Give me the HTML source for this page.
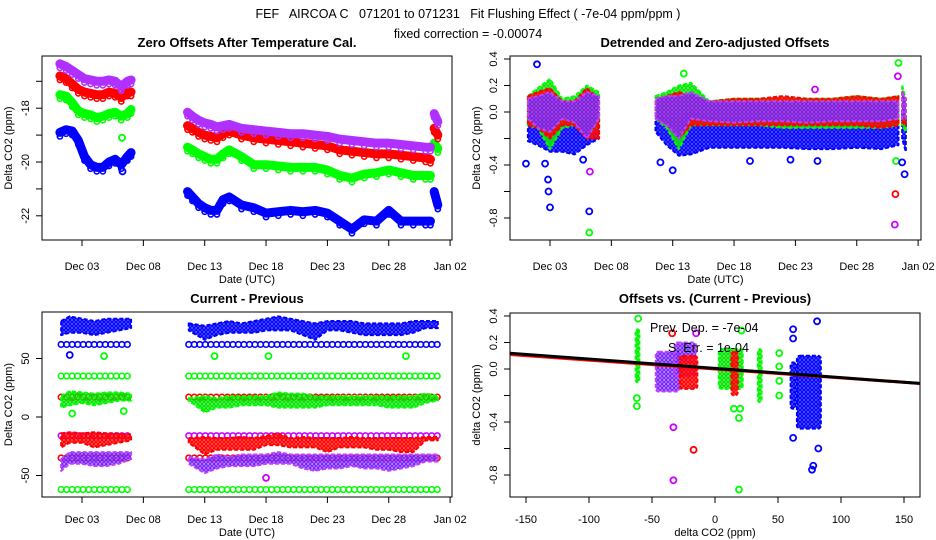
<!DOCTYPE html>
<html><head><meta charset="utf-8"><style>
html,body{margin:0;padding:0;background:#fff}
svg{display:block;font-family:"Liberation Sans",sans-serif}
</style></head><body>
<svg id="c" width="936" height="540" viewBox="0 0 936 540">
<defs>
<pattern id="pp" width="4" height="4" patternUnits="userSpaceOnUse"><rect width="4" height="4" fill="#d050ff" opacity="0.6"/><circle cx="2" cy="2" r="1.4" fill="none" stroke="#6020ff" stroke-width="1.1"/></pattern>
<pattern id="pr" width="4" height="4" patternUnits="userSpaceOnUse"><rect width="4" height="4" fill="#ff0000" opacity="0.55"/><circle cx="2" cy="2" r="1.4" fill="none" stroke="#ff0000" stroke-width="1.2"/></pattern>
<pattern id="pg" width="4" height="4" patternUnits="userSpaceOnUse"><rect width="4" height="4" fill="#00ff00" opacity="0.5"/><circle cx="2" cy="2" r="1.4" fill="none" stroke="#00e000" stroke-width="1.2"/></pattern>
<pattern id="pb" width="4" height="4" patternUnits="userSpaceOnUse"><rect width="4" height="4" fill="#0000ff" opacity="0.55"/><circle cx="2" cy="2" r="1.4" fill="none" stroke="#0000ff" stroke-width="1.2"/></pattern>
</defs>
<text x="468" y="18" font-size="12.5" text-anchor="middle" xml:space="preserve">FEF   AIRCOA C   071201 to 071231   Fit Flushing Effect ( -7e-04 ppm/ppm )</text>
<text x="468" y="38" font-size="12.5" text-anchor="middle">fixed correction = -0.00074</text>
<text x="247" y="47" font-size="13" font-weight="bold" text-anchor="middle">Zero Offsets After Temperature Cal.</text>
<text x="715" y="47" font-size="13" font-weight="bold" text-anchor="middle">Detrended and Zero-adjusted Offsets</text>
<text x="247" y="303" font-size="13" font-weight="bold" text-anchor="middle">Current - Previous</text>
<text x="715" y="303" font-size="13" font-weight="bold" text-anchor="middle">Offsets vs. (Current - Previous)</text>
<g id="g"></g>
</svg>
<script>
// ---------- data ----------
const T = [0.2,0.7,1.2,1.7,2.2,2.7,3.2,3.7,4.2,4.7,5.2,5.7,6.0,null,
  10.6,11,11.5,12,12.5,13,13.5,14,15,16,17,18,19,20,21,22,23,24,25,26,27,28,29,30,30.4,null,30.7,31.0];
const zPurple = [-16.35,-16.45,-16.6,-16.75,-16.9,-16.95,-17.0,-17.0,-16.95,-17.0,-17.2,-17.0,-16.95,null,
  -18.15,-18.3,-18.45,-18.55,-18.6,-18.7,-18.65,-18.6,-18.75,-18.8,-18.85,-18.9,-18.95,-18.95,-19.0,-19.05,-19.15,-19.2,-19.25,-19.3,-19.3,-19.35,-19.4,-19.45,-19.45,null,-18.2,-18.5];
const zRed = [-16.8,-16.9,-17.1,-17.3,-17.4,-17.45,-17.5,-17.5,-17.4,-17.45,-17.6,-17.4,-17.4,null,
  -18.65,-18.75,-18.9,-19.0,-19.05,-19.1,-18.95,-18.85,-19.0,-19.1,-19.15,-19.2,-19.25,-19.3,-19.35,-19.4,-19.55,-19.6,-19.65,-19.7,-19.7,-19.75,-19.8,-19.85,-19.9,null,-18.75,-19.0];
const zGreen = [-17.5,-17.55,-17.8,-18.1,-18.2,-18.25,-18.35,-18.3,-18.2,-18.15,-18.3,-18.2,-18.05,null,
  -19.45,-19.55,-19.7,-19.8,-19.9,-19.9,-19.7,-19.55,-19.8,-20.1,-20.1,-20.15,-20.2,-20.2,-20.2,-20.3,-20.5,-20.6,-20.45,-20.4,-20.3,-20.4,-20.5,-20.5,-20.5,null,-19.3,-19.5];
const zBlue = [-18.9,-18.8,-18.85,-19.2,-19.8,-20.1,-20.2,-20.2,-20.0,-19.9,-20.1,-19.8,-19.65,null,
  -21.1,-21.3,-21.55,-21.7,-21.8,-21.8,-21.4,-21.3,-21.6,-21.7,-21.9,-21.85,-21.8,-21.85,-21.8,-21.9,-22.2,-22.5,-22.15,-22.2,-21.8,-22.2,-22.2,-22.2,-22.2,null,-21.1,-21.6];
const zOutDay = [5.26,5.3];
const zOutVal = [-19.1,-20.35];
const zOutCol = ['#00ff00','#0000ff'];

const TB = [0.2,1,2,3,4,5,6,null,10.6,11.5,12.5,13.5,15,17,19,21,23,25,27,29,30.4,null,30.7,31];
const dBlueHi = [-0.05,-0.05,-0.05,-0.08,-0.08,-0.05,-0.05,null,-0.05,-0.05,-0.05,0.0,-0.05,-0.05,-0.05,-0.05,-0.05,-0.05,-0.05,-0.05,-0.05,null,0.0,-0.05];
const dBlueLo = [-0.22,-0.25,-0.3,-0.3,-0.32,-0.25,-0.2,null,-0.15,-0.25,-0.33,-0.32,-0.27,-0.27,-0.27,-0.27,-0.28,-0.28,-0.27,-0.28,-0.25,null,-0.2,-0.3];
const dGreenHi = [0.12,0.18,0.25,0.1,0.12,0.2,0.15,null,0.12,0.15,0.2,0.22,0.08,0.1,0.1,0.1,0.1,0.1,0.12,0.1,0.12,null,0.2,0.1];
const dGreenLo = [-0.1,-0.12,-0.28,-0.12,-0.1,-0.15,-0.12,null,-0.05,-0.12,-0.28,-0.1,-0.1,-0.1,-0.1,-0.12,-0.12,-0.12,-0.12,-0.12,-0.1,null,-0.1,-0.15];
const dRedHi = [0.12,0.15,0.18,0.08,0.08,0.18,0.1,null,0.1,0.12,0.15,0.12,0.08,0.1,0.1,0.12,0.1,0.1,0.12,0.1,0.12,null,0.15,0.1];
const dRedLo = [-0.1,-0.12,-0.2,-0.1,-0.1,-0.2,-0.2,null,-0.05,-0.1,-0.2,-0.1,-0.1,-0.1,-0.1,-0.1,-0.1,-0.1,-0.1,-0.12,-0.1,null,-0.08,-0.1];
const dPurpleHi = [0.1,0.12,0.15,0.08,0.08,0.15,0.12,null,0.1,0.12,0.12,0.15,0.08,0.08,0.08,0.08,0.08,0.08,0.08,0.08,0.08,null,0.15,0.1];
const dPurpleLo = [-0.05,-0.12,-0.15,-0.05,-0.08,-0.2,-0.05,null,-0.05,-0.1,-0.2,-0.05,-0.07,-0.08,-0.07,-0.07,-0.08,-0.07,-0.07,-0.07,-0.05,null,-0.05,-0.05];
const dOutDay = [0.94,0.04,1.6,1.84,1.88,2.0,5.2,5.2,5.25,4.7,30.4,30.35,30.2,30.15,30.1,30.9,30.7,12.0,11.0,21.6,18.3,23.8,12.9,23.6];
const dOutVal = [0.36,-0.39,-0.39,-0.51,-0.6,-0.72,-0.91,-0.75,-0.45,-0.36,0.37,0.27,-0.37,-0.62,-0.85,-0.47,-0.38,-0.44,-0.38,-0.36,-0.37,-0.37,0.29,0.17];
const dOutCol = ['#0000ff','#0000ff','#0000ff','#0000ff','#0000ff','#0000ff','#00ff00','#0000ff','#cc00ff','#0000ff','#00ff00','#cc00ff','#00ff00','#ff0000','#cc00ff','#0000ff','#0000ff','#0000ff','#0000ff','#0000ff','#0000ff','#0000ff','#00ff00','#cc00ff'];

const TC = [0.3,1,2,3,4,5,6.0,null,10.7,12,13,14,15,16,17,18,19,20,21,22,23,24,25,26,27,28,29,30,31.0];
const cBlueHi = [82,86,84,82,84,84,84,null,80,78,80,82,80,82,84,86,84,82,80,82,82,82,80,80,80,80,82,82,82];
const cBlueLo = [70,72,72,70,72,74,76,null,74,66,70,72,72,72,74,74,74,70,66,74,74,72,70,70,70,70,72,76,76];
const cGreenHi = [18,22,21,20,21,21,20,null,16,18,16,18,18,18,18,21,20,20,18,18,18,18,18,18,18,18,18,20,18];
const cGreenLo = [8,10,12,10,12,14,14,null,14,4,8,8,10,10,10,8,8,8,8,10,10,10,10,10,8,8,8,12,14];
const cRedHi = [-14,-13,-14,-13,-14,-14,-15,null,-18,-17,-18,-18,-17,-18,-16,-14,-18,-17,-18,-18,-18,-17,-18,-18,-18,-18,-18,-17,-17];
const cRedLo = [-26,-22,-22,-26,-24,-22,-20,null,-22,-32,-28,-28,-28,-28,-24,-24,-26,-26,-26,-30,-26,-26,-26,-28,-28,-30,-30,-20,-20];
const cPurpleHi = [-36,-30,-30,-30,-30,-30,-30,null,-34,-36,-32,-34,-32,-32,-32,-30,-32,-32,-32,-32,-32,-32,-32,-32,-32,-32,-32,-32,-32];
const cPurpleLo = [-46,-40,-40,-42,-42,-40,-36,null,-40,-48,-44,-42,-42,-42,-40,-40,-40,-44,-46,-44,-44,-42,-44,-44,-46,-44,-42,-38,-38];
const cRowVal = [62,35,17,-16,-35,-62];
const cRowCol = ['#0000ff','#00ff00','#ff0000','#cc00ff','#ff0000','#00ff00'];
const cOutDay = [3.8,12.8,17.2,28.4,17.0,1.0,1.2,5.4];
const cOutVal = [52,52,52,52,-52,53,3,5];
const cOutCol = ['#00ff00','#00ff00','#00ff00','#00ff00','#cc00ff','#0000ff','#00ff00','#00ff00'];

// bottom-right clusters: [x0, x1, ylo, yhi]
const sGreen = [[-63,-60,-0.1,0.3],[3,22,-0.15,0.15],[34,37,-0.25,0.15]];
const sPurple = [[-47,-28,-0.17,0.13],[-32,-15,-0.05,0.2]];
const sRed = [[-28,-14,-0.15,0.1],[13,18,-0.2,0.13]];
const sBlue = [[60,64,-0.3,0.05],[65,84,-0.45,0.1]];
const sOutX = [-61,-62,-62,-33,-33,-17,19,82,78,77,62,62,62,81,51,51,51,51,15,20,19,21,-34,-15];
const sOutY = [0.38,-0.22,-0.28,-0.44,-0.84,-0.61,-0.91,-0.6,-0.73,-0.76,-0.52,0.3,0.23,0.36,0.12,0.02,-0.09,-0.2,-0.3,-0.3,-0.37,0.29,0.27,0.27];
const sOutCol = ['#00ff00','#00ff00','#00ff00','#cc00ff','#cc00ff','#ff0000','#00ff00','#0000ff','#0000ff','#0000ff','#0000ff','#0000ff','#0000ff','#0000ff','#00ff00','#00ff00','#00ff00','#00ff00','#00ff00','#00ff00','#00ff00','#00ff00','#ff0000','#cc00ff'];
const fitSlope = -7e-4;
const fitIntercept = 0.005;
const fitSlopeRed = -6.7e-4;
const fitInterceptRed = 0.0;

// ---------- drawing ----------
const NS='http://www.w3.org/2000/svg';
const G=document.getElementById('g');
function mk(tag,at,parent){const e=document.createElementNS(NS,tag);for(const k in at)e.setAttribute(k,at[k]);(parent||G).appendChild(e);return e;}

const P1={x0:42,x1:452,y0:56,y1:240,sx:d=>82+(d-2)*12.27,sy:v=>162-(v+20)*26.9};
const P2={x0:510,x1:921,y0:56,y1:240,sx:d=>550+(d-2)*12.27,sy:v=>112-v*132.5};
const P3={x0:42,x1:452,y0:312,y1:497,sx:d=>82+(d-2)*12.27,sy:v=>417-v*1.17};
const P4={x0:510,x1:920,y0:313,y1:497,sx:v=>715+v*1.26,sy:v=>369-v*132.5};

function frame(P,name){
  const r=mk('rect',{x:P.x0,y:P.y0,width:P.x1-P.x0,height:P.y1-P.y0,fill:'none',stroke:'#000','stroke-width':1});
  
  
  const cp=mk('clipPath',{id:'clip-'+name});mk('rect',{x:P.x0,y:P.y0,width:P.x1-P.x0,height:P.y1-P.y0},cp);
  const g=mk('g',{'clip-path':'url(#clip-'+name+')'});
  
  
  return g;
}
function xaxisDates(P,ly,name){
  const names=['Dec 03','Dec 08','Dec 13','Dec 18','Dec 23','Dec 28','Jan 02'];
  const g=mk('g',{});
  
  
  names.forEach((n,i)=>{const x=P.sx(2+5*i);
    mk('line',{x1:x,x2:x,y1:P.y1,y2:P.y1+6,stroke:'#000'},g);
    const t=mk('text',{x:x,y:ly,'font-size':11,'text-anchor':'middle'},g);t.textContent=n;});
  const t=mk('text',{x:(P.x0+P.x1)/2,y:ly+13,'font-size':11,'text-anchor':'middle'},g);t.textContent='Date (UTC)';
}
function yaxis(P,ticks,labels,title,name){
  const g=mk('g',{});
  
  
  ticks.forEach((v,i)=>{const y=P.sy(v);
    mk('line',{x1:P.x0-6,x2:P.x0,y1:y,y2:y,stroke:'#000'},g);
    if(labels[i]!==''){const t=mk('text',{x:P.x0-13,y:y,'font-size':11,'text-anchor':'middle',transform:`rotate(-90 ${P.x0-13} ${y})`},g);t.textContent=labels[i];}});
  const cy=(P.y0+P.y1)/2;
  const t=mk('text',{x:P.x0-30,y:cy,'font-size':11,'text-anchor':'middle',transform:`rotate(-90 ${P.x0-30} ${cy})`},g);t.textContent=title;
}
function segs(times,vals){const out=[];let cur=[];times.forEach((t,i)=>{if(t===null){if(cur.length)out.push(cur);cur=[];}else cur.push([t,vals[i]]);});if(cur.length)out.push(cur);return out;}
function lineSeries(P,g,vals,col,name){
  segs(T,vals).forEach(s=>{
    const pts=s.map(p=>P.sx(p[0])+','+P.sy(p[1])).join(' ');
    const l=mk('polyline',{points:pts,fill:'none',stroke:col,'stroke-width':9,'stroke-linejoin':'round','stroke-linecap':'round'},g);
    
    
    s.forEach(p=>{mk('circle',{cx:P.sx(p[0]),cy:P.sy(p[1])+4,r:2.6,fill:'none',stroke:col,'stroke-width':1.6},g);});
  });
}
function band(P,g,times,lo,hi,fill,col,name){
  const sl=segs(times,lo),sh=segs(times,hi);
  sl.forEach((s,k)=>{const h=sh[k];
    const pts=h.map(p=>P.sx(p[0])+','+P.sy(p[1])).concat(s.slice().reverse().map(p=>P.sx(p[0])+','+P.sy(p[1]))).join(' ');
    const pg=mk('polygon',{points:pts,fill:fill,stroke:col,'stroke-width':2,'stroke-dasharray':'4 2','stroke-linejoin':'round'},g);
    
    
  });
}
function points(P,g,xs,ys,cols,name){
  xs.forEach((x,i)=>{const c=mk('circle',{cx:P.sx(x),cy:P.sy(ys[i]),r:3,fill:'none',stroke:cols[i],'stroke-width':1.8},g);
    
    });
}

// Panel 1
let g1=frame(P1,'zero-offsets');
lineSeries(P1,g1,zBlue,'#0000ff','series-blue');
lineSeries(P1,g1,zGreen,'#00ff00','series-green');
lineSeries(P1,g1,zRed,'#ff0000','series-red');
lineSeries(P1,g1,zPurple,'#b030ff','series-purple');
points(P1,g1,zOutDay,zOutVal,zOutCol,'outlier');
xaxisDates(P1,270,'zero-offsets');
yaxis(P1,[-17,-18,-19,-20,-21,-22],['','-18','','-20','','-22'],'Delta CO2 (ppm)','zero-offsets');

// Panel 2
let g2=frame(P2,'detrended');
band(P2,g2,TB,dBlueLo,dBlueHi,'url(#pb)','#0000ff','band-blue');
band(P2,g2,TB,dGreenLo,dGreenHi,'url(#pg)','#00ff00','band-green');
band(P2,g2,TB,dRedLo,dRedHi,'url(#pr)','#ff0000','band-red');
band(P2,g2,TB,dPurpleLo,dPurpleHi,'url(#pp)','#c040ff','band-purple');
points(P2,g2,dOutDay,dOutVal,dOutCol,'outlier');
xaxisDates(P2,270,'detrended');
yaxis(P2,[0.4,0.2,0,-0.2,-0.4,-0.6,-0.8],['0.4','0.2','0.0','','-0.4','','-0.8'],'Delta CO2 (ppm)','detrended');

// Panel 3
let g3=frame(P3,'current-previous');
const rowSegs=[[0.3,6.0],[10.7,31.0]];
cRowVal.forEach((v,i)=>{rowSegs.forEach(sg=>{for(let d=sg[0];d<=sg[1];d+=0.45){
  const c=mk('circle',{cx:P3.sx(d),cy:P3.sy(v),r:2.8,fill:'none',stroke:cRowCol[i],'stroke-width':1.6},g3);
  
  }});});
band(P3,g3,TC,cBlueLo,cBlueHi,'url(#pb)','#0000ff','cloud-blue');
band(P3,g3,TC,cGreenLo,cGreenHi,'url(#pg)','#00ff00','cloud-green');
band(P3,g3,TC,cRedLo,cRedHi,'url(#pr)','#ff0000','cloud-red');
band(P3,g3,TC,cPurpleLo,cPurpleHi,'url(#pp)','#c040ff','cloud-purple');
points(P3,g3,cOutDay,cOutVal,cOutCol,'outlier');
xaxisDates(P3,523,'current-previous');
yaxis(P3,[50,0,-50],['50','0','-50'],'Delta CO2 (ppm)','current-previous');

// Panel 4
let g4=frame(P4,'offsets-vs');
function clusters(arr,fill,col,name){arr.forEach(c=>{
  const r=mk('rect',{x:P4.sx(c[0]),y:P4.sy(c[3]),width:P4.sx(c[1])-P4.sx(c[0]),height:P4.sy(c[2])-P4.sy(c[3]),fill:fill,stroke:col,'stroke-width':2,'stroke-dasharray':'4 2',rx:3},g4);
  
  });}
clusters(sGreen,'url(#pg)','#00ff00','cluster-green');
clusters(sPurple,'url(#pp)','#c040ff','cluster-purple');
clusters(sRed,'url(#pr)','#ff0000','cluster-red');
clusters(sBlue,'url(#pb)','#0000ff','cluster-blue');
points(P4,g4,sOutX,sOutY,sOutCol,'outlier');
const fr=mk('line',{x1:P4.sx(-170),y1:P4.sy(fitInterceptRed+fitSlopeRed*-170),x2:P4.sx(170),y2:P4.sy(fitInterceptRed+fitSlopeRed*170),stroke:'#ff0000','stroke-width':3},g4);


const fb=mk('line',{x1:P4.sx(-170),y1:P4.sy(fitIntercept+fitSlope*-170),x2:P4.sx(170),y2:P4.sy(fitIntercept+fitSlope*170),stroke:'#000','stroke-width':3},g4);


let t1=mk('text',{x:650,y:332,'font-size':12.5});t1.textContent='Prev. Dep. =  -7e-04';


t1.setAttribute('xml:space','preserve');
let t2=mk('text',{x:668,y:352,'font-size':12.5});t2.textContent='S. Err. =  1e-04';


t2.setAttribute('xml:space','preserve');
(function(){const g=mk('g',{});
  
  
  [-150,-100,-50,0,50,100,150].forEach(v=>{const x=P4.sx(v);
    mk('line',{x1:x,x2:x,y1:P4.y1,y2:P4.y1+6,stroke:'#000'},g);
    const t=mk('text',{x:x,y:523,'font-size':11,'text-anchor':'middle'},g);t.textContent=String(v);});
  const t=mk('text',{x:715,y:536,'font-size':11,'text-anchor':'middle'},g);t.textContent='delta CO2 (ppm)';})();
yaxis(P4,[0.4,0.2,0,-0.2,-0.4,-0.6,-0.8],['0.4','0.2','0.0','','-0.4','','-0.8'],'delta CO2 (ppm)','offsets-vs');
</script>
</body></html>
